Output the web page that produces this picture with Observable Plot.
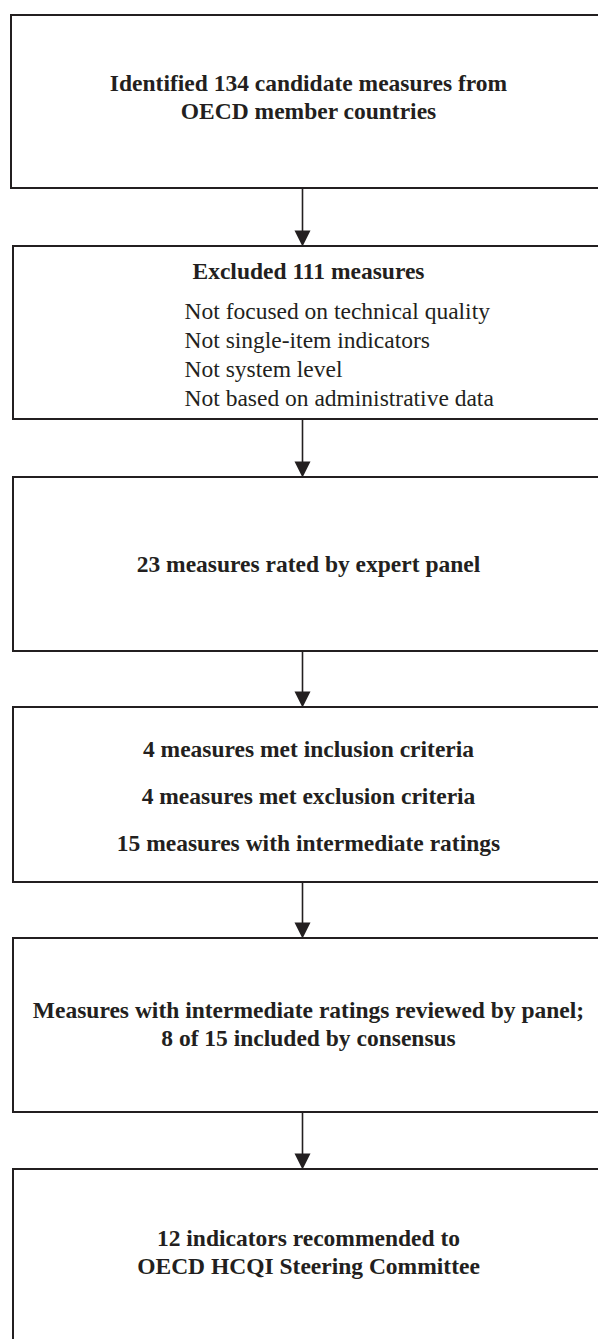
<!DOCTYPE html>
<html>
<head>
<meta charset="utf-8">
<script src="https://cdn.jsdelivr.net/npm/d3@7"></script>
<script src="https://cdn.jsdelivr.net/npm/@observablehq/plot@0.6"></script>
<style>
  html, body { margin: 0; padding: 0; background: #fff; }
  #chart svg { display: block; }
</style>
</head>
<body>
<div id="chart"></div>
<script>
// Flow stages: top and bottom edge of each box
const stageTop    = [15, 246, 477, 707, 938, 1169];
const stageBottom = [188, 419, 651, 882, 1112, 1400];
const stageLeft   = [11, 13, 13, 13, 13, 13];

// Headline (bold, centred) text lines with their vertical positions
const boldLines = [
  "Identified 134 candidate measures from",
  "OECD member countries",
  "Excluded 111 measures",
  "23 measures rated by expert panel",
  "4 measures met inclusion criteria",
  "4 measures met exclusion criteria",
  "15 measures with intermediate ratings",
  "Measures with intermediate ratings reviewed by panel;",
  "8 of 15 included by consensus",
  "12 indicators recommended to",
  "OECD HCQI Steering Committee"
];
const boldY = [83, 111, 271, 564, 749, 796, 843, 1010, 1038, 1238, 1266];

// Exclusion reasons (regular, left-aligned)
const reasonLines = [
  "Not focused on technical quality",
  "Not single-item indicators",
  "Not system level",
  "Not based on administrative data"
];
const reasonY = [311, 340, 369, 398];

const W = 598, H = 1339;
const ink = "#231f20";
const arrowX = 302, textX = 308, reasonX = 184, boxRight = 606;

const boxes = stageTop.map((t, i) => ({top: t, bottom: stageBottom[i], left: stageLeft[i]}));
const arrows = stageTop.slice(1).map((t, i) => ({from: stageBottom[i], to: t}));
const heads = arrows.flatMap((a, i) => [
  {k: i, x: arrowX - 8, y: a.to - 16},
  {k: i, x: arrowX + 8, y: a.to - 16},
  {k: i, x: arrowX, y: a.to}
]);
const bold = boldLines.map((s, i) => ({s, y: boldY[i]}));
const reasons = reasonLines.map((s, i) => ({s, y: reasonY[i]}));

const font = "'Liberation Serif', 'Times New Roman', serif";

const chart = Plot.plot({
  width: W,
  height: H,
  margin: 0,
  x: {domain: [0, W], range: [0, W], axis: null},
  y: {domain: [0, H], range: [0, H], axis: null},
  marks: [
    Plot.rect(boxes, {x1: "left", x2: () => boxRight, y1: "top", y2: "bottom",
      fill: "white", stroke: ink, strokeWidth: 2}),
    Plot.link(arrows, {x1: () => arrowX, x2: () => arrowX, y1: "from", y2: d => d.to - 12,
      stroke: ink, strokeWidth: 1.6}),
    Plot.line(heads, {x: "x", y: "y", z: "k", fill: ink, stroke: "none"}),
    Plot.text(bold, {x: () => textX, y: "y", text: "s", textAnchor: "middle",
      fontFamily: font, fontSize: 23.5, fontWeight: "bold", fill: ink}),
    Plot.text(reasons, {x: () => reasonX, y: "y", text: "s", textAnchor: "start",
      fontFamily: font, fontSize: 23.5, fill: ink})
  ]
});
document.getElementById("chart").appendChild(chart);
</script>
</body>
</html>
